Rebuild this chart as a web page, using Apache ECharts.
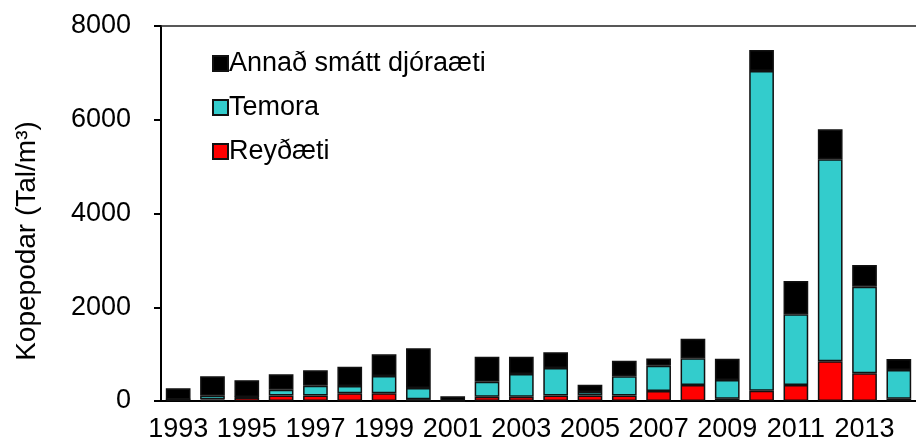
<!DOCTYPE html>
<html>
<head>
<meta charset="utf-8">
<script src="https://cdn.jsdelivr.net/npm/echarts@6/dist/echarts.min.js"></script>
<style>
  html, body { margin: 0; padding: 0; background: #fff; }
  #main { width: 916px; height: 448px; }
</style>
</head>
<body>
<div id="main"></div>
<script>
// ár
var years = ['1993', '1994', '1995', '1996', '1997', '1998', '1999', '2000', '2001', '2002', '2003',
             '2004', '2005', '2006', '2007', '2008', '2009', '2010', '2011', '2012', '2013', '2014'];
// Tal/m3, lesið af myndinni
var reydaeti = [30, 30, 75, 120, 120, 165, 165, 40, 5, 90, 90, 120, 115, 120, 215, 340, 50, 220, 340, 850, 590, 50];
var temora = [0, 80, 10, 120, 205, 155, 370, 240, 0, 320, 485, 585, 75, 410, 535, 570, 400, 6820, 1510, 4310, 1850, 610];
var annad = [240, 417, 360, 330, 330, 410, 460, 845, 95, 535, 370, 335, 155, 330, 155, 420, 450, 450, 710, 635, 460, 235];
var yTicks = [0, 2000, 4000, 6000, 8000];

var font = "'Liberation Sans', Arial, sans-serif";

var chart = echarts.init(document.getElementById('main'));

function bar(name, data, color) {
  return {
    name: name,
    type: 'bar',
    stack: 'total',
    data: data,
    barCategoryGap: '28%',
    itemStyle: { color: color, borderColor: '#111', borderWidth: 1.5 },
    emphasis: { disabled: true }
  };
}

var option = {
  animation: false,
  textStyle: { fontFamily: font },
  grid: { left: 161, top: 26, width: 761, height: 375 },
  legend: {
    orient: 'vertical',
    left: 207,
    top: 45,
    itemWidth: 15,
    itemHeight: 15,
    itemGap: 17,
    icon: 'rect',
    textStyle: { fontFamily: font, fontSize: 27, color: '#000', padding: [0, 0, 0, -4] },
    data: ['Annað smátt djóraæti', 'Temora', 'Reyðæti']
  },
  xAxis: [{
    type: 'category',
    data: years,
    axisLine: { lineStyle: { color: '#000', width: 2 } },
    axisTick: { interval: 0, length: 7, lineStyle: { color: '#000', width: 2 } },
    axisLabel: { interval: 1, margin: 15, fontSize: 27, color: '#000', fontFamily: font }
  }, {
    type: 'category',
    position: 'top',
    data: years,
    axisLine: { lineStyle: { color: '#222', width: 1.5 } },
    axisTick: { show: false },
    axisLabel: { show: false }
  }],
  yAxis: {
    type: 'value',
    min: 0,
    max: yTicks[yTicks.length - 1],
    interval: 2000,
    axisLine: { show: true, lineStyle: { color: '#000', width: 2 } },
    axisTick: { show: true, length: 7, lineStyle: { color: '#000', width: 2 } },
    splitLine: { show: false },
    axisLabel: {
      margin: 30, fontSize: 27, color: '#000', fontFamily: font,
      formatter: function (v) { return String(v); }
    }
  },
  graphic: [{
    type: 'text',
    x: 27,
    y: 241,
    rotation: Math.PI / 2,
    style: {
      text: 'Kopepodar (Tal/m³)',
      fontSize: 28,
      fontFamily: font,
      fill: '#000',
      align: 'center',
      verticalAlign: 'middle'
    }
  }],
  series: [
    bar('Reyðæti', reydaeti, '#ff0000'),
    bar('Temora', temora, '#33cccc'),
    bar('Annað smátt djóraæti', annad, '#000000')
  ]
};

chart.setOption(option);
</script>
</body>
</html>
